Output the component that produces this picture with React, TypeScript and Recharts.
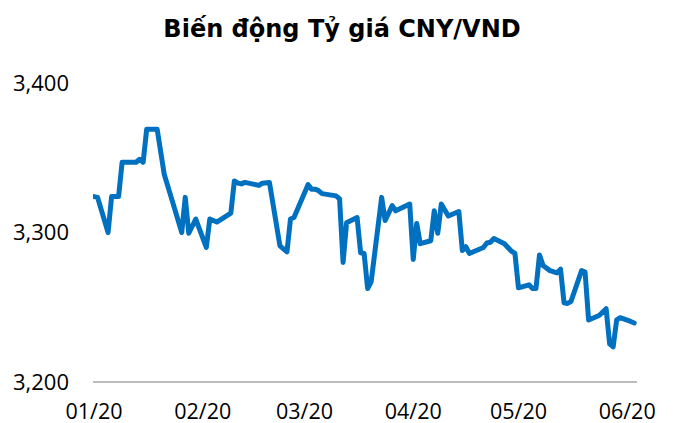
import React from "react";
import { LineChart, Line, XAxis, YAxis } from "recharts";

const dates: string[] = [
  "2020-01-02", "2020-01-03", "2020-01-06", "2020-01-07", "2020-01-09", "2020-01-10",
  "2020-01-14", "2020-01-15", "2020-01-16", "2020-01-17", "2020-01-20", "2020-01-22",
  "2020-01-24", "2020-01-27", "2020-01-28", "2020-01-29", "2020-01-31",
  "2020-02-03", "2020-02-04", "2020-02-06", "2020-02-10", "2020-02-11", "2020-02-12",
  "2020-02-13", "2020-02-14", "2020-02-18", "2020-02-19", "2020-02-21", "2020-02-24",
  "2020-02-26", "2020-02-27", "2020-02-28",
  "2020-03-03", "2020-03-04", "2020-03-05", "2020-03-06", "2020-03-07", "2020-03-11",
  "2020-03-12", "2020-03-13", "2020-03-14", "2020-03-17", "2020-03-18", "2020-03-19",
  "2020-03-20", "2020-03-21", "2020-03-24", "2020-03-25", "2020-03-27", "2020-03-28",
  "2020-04-01", "2020-04-02", "2020-04-03", "2020-04-04", "2020-04-07", "2020-04-08",
  "2020-04-09", "2020-04-10", "2020-04-12", "2020-04-15", "2020-04-16", "2020-04-17",
  "2020-04-18", "2020-04-21", "2020-04-22", "2020-04-23", "2020-04-24", "2020-04-25",
  "2020-04-28", "2020-04-30",
  "2020-05-01", "2020-05-02", "2020-05-05", "2020-05-06", "2020-05-07", "2020-05-08",
  "2020-05-09", "2020-05-11", "2020-05-13", "2020-05-14", "2020-05-15", "2020-05-16",
  "2020-05-17", "2020-05-20", "2020-05-21", "2020-05-22", "2020-05-25", "2020-05-27",
  "2020-05-28", "2020-05-29", "2020-05-30", "2020-05-31", "2020-06-03", "2020-06-04",
];

const rates: number[] = [
  3324, 3323.5, 3300, 3324, 3324, 3347,
  3347, 3349, 3347, 3369, 3369, 3339,
  3323.5, 3300, 3323.5, 3299.5, 3309,
  3290, 3309, 3307, 3313, 3334.5, 3333,
  3332.5, 3333.5, 3331.5, 3333, 3333.5, 3291,
  3287, 3309, 3310,
  3332, 3329, 3329, 3328, 3326, 3324.5,
  3322.5, 3280, 3306.5, 3310, 3286.5, 3286,
  3262.5, 3267, 3323.5, 3308, 3318, 3314.5,
  3319, 3282, 3306, 3292.5, 3294.5, 3314.5,
  3299.5, 3319, 3311, 3314, 3288, 3290.5,
  3286, 3289, 3290, 3293, 3293.5, 3296,
  3292.5, 3287.5,
  3286, 3263, 3265, 3262.5, 3262.5, 3285,
  3278, 3274.5, 3273, 3275.5, 3253, 3252.5,
  3254, 3274.5, 3273.5, 3241.5, 3244.5, 3249,
  3225.5, 3223.5, 3241.5, 3243, 3240.5, 3239.5,
];

const tickDates: string[] = ["2020-01-02", "2020-02-02", "2020-03-02", "2020-04-02", "2020-05-02", "2020-06-02"];
const tickLabels: string[] = ["01/20", "02/20", "03/20", "04/20", "05/20", "06/20"];
const yTicks: number[] = [3200, 3300, 3400];

const title = "Biến động Tỷ giá CNY/VND";

const dayIndex = (s: string) => {
  const [y, m, d] = s.split("-").map(Number);
  return (Date.UTC(y, m - 1, d) - Date.UTC(2020, 0, 2)) / 86400000;
};

const data = dates.map((d, i) => ({ day: dayIndex(d), rate: rates[i] }));
const tickDays = tickDates.map(dayIndex);

export default function App() {
  return (
    <div style={{ position: "absolute", left: 0, top: 0, width: 682, height: 423, background: "#fff", overflow: "hidden" }}>
      <div
        style={{
          position: "absolute",
          left: 0,
          top: 16.5,
          width: 684,
          textAlign: "center",
          fontFamily: "'DejaVu Sans', sans-serif",
          fontWeight: "bold",
          fontSize: 24,
          lineHeight: "24px",
          color: "#000",
        }}
      >
        {title}
      </div>
      <LineChart width={682} height={423} data={data} margin={{ top: 83, right: 45, left: 0, bottom: 0 }}>
        <XAxis
          type="number"
          dataKey="day"
          domain={[-0.3, 154.8]}
          ticks={tickDays}
          allowDataOverflow
          tickFormatter={(v: number) => tickLabels[tickDays.indexOf(v)] ?? ""}
          tickLine={false}
          axisLine={{ stroke: "#a6a6a6", strokeWidth: 1.5 }}
          height={41}
          tickMargin={16}
          tick={{ fill: "#000", fontSize: 21.5, fontFamily: "'Open Sans', sans-serif" }}
        />
        <YAxis
          domain={[3200, 3400]}
          ticks={yTicks}
          width={93}
          tickLine={false}
          axisLine={false}
          tickMargin={18}
          tickFormatter={(v: number) => v.toLocaleString("en-US")}
          tick={{ fill: "#000", fontSize: 22, fontFamily: "'Open Sans', sans-serif" }}
        />
        <Line
          type="linear"
          dataKey="rate"
          stroke="#0070c0"
          strokeWidth={5}
          strokeLinejoin="round"
          strokeLinecap="round"
          dot={false}
          activeDot={false}
          isAnimationActive={false}
        />
      </LineChart>
    </div>
  );
}
